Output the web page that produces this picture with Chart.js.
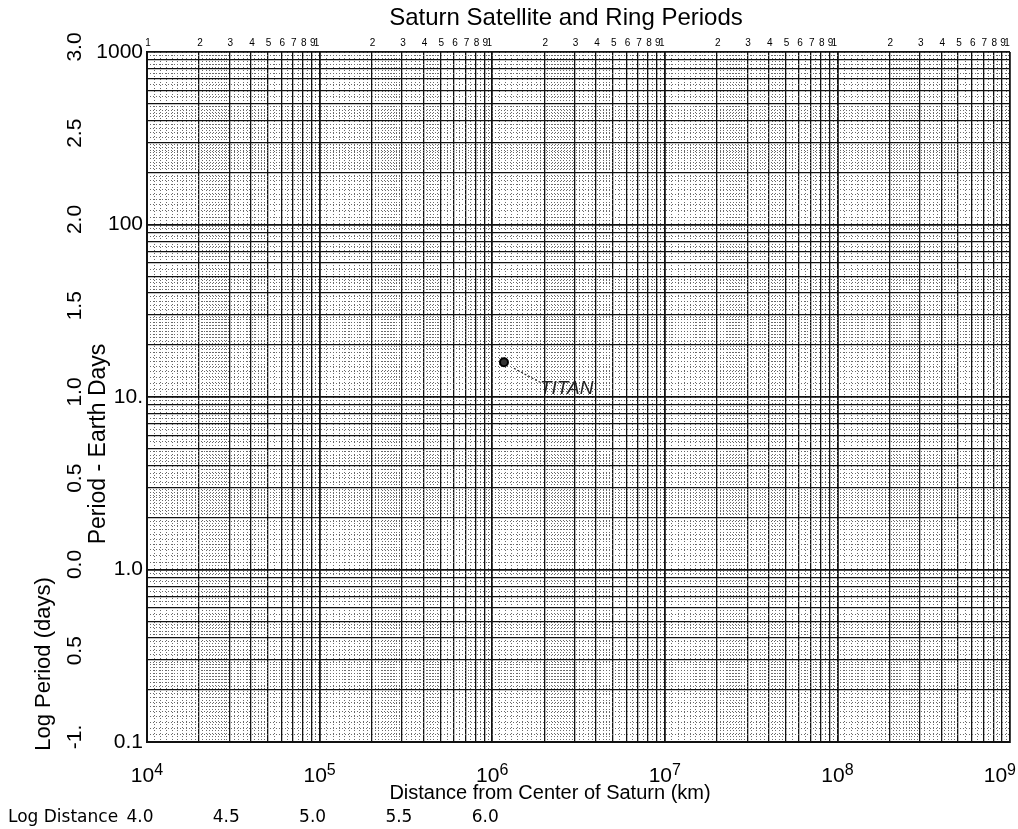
<!DOCTYPE html>
<html>
<head>
<meta charset="utf-8">
<script src="https://cdn.jsdelivr.net/npm/chart.js@4.4.1/dist/chart.umd.min.js"></script>
<style>
  body { margin: 0; background: #fff; }
  #wrap { width: 1018px; height: 829px; }
</style>
</head>
<body>
<div id="wrap"><canvas id="chart" width="1018" height="829"></canvas></div>
<script>
// satellite data
var satelliteNames = ['TITAN'];
var satelliteDistances = [1.17e6];   // km
var satellitePeriods = [15.9];       // earth days

// axis ranges and labels
var xMin = 1e4, xMax = 1e9;
var yMin = 0.1, yMax = 1000;
var xDecadeExponents = ['4', '5', '6', '7', '8', '9'];
var yTickValues = [1000, 100, 10, 1, 0.1];
var yTickLabels = ['1000', '100', '10.', '1.0', '0.1'];
var logPeriodValues = [3.0, 2.5, 2.0, 1.5, 1.0, 0.5, 0.0, -0.5, -1.0];
var logPeriodLabels = ['3.0', '2.5', '2.0', '1.5', '1.0', '0.5', '0.0', '0.5', '-1.'];
var logDistanceValues = [4.0, 4.5, 5.0, 5.5, 6.0];
var logDistanceLabels = ['4.0', '4.5', '5.0', '5.5', '6.0'];
var cycleDigits = ['1', '2', '3', '4', '5', '6', '7', '8', '9'];

var FONT = "'Liberation Sans', Arial, sans-serif";

function clean(v) {
    return Number(v.toPrecision(6));
}

// solid lines of the log paper: 1..9 in every cycle
function cycleTicks(min, max) {
    var out = [];
    for (var n = Math.round(Math.log10(min)); n <= Math.round(Math.log10(max)); n++) {
        for (var k = 1; k <= 9; k++) {
            var v = clean(k * Math.pow(10, n));
            if (v >= min && v <= max) out.push({ value: v });
        }
    }
    return out;
}

// dotted sub-divisions between the solid lines
var subSteps = [[1, 3, 0.1], [3, 5, 0.2], [5, 10, 0.5]];
function fineTicks(min, max) {
    var out = [];
    for (var n = Math.round(Math.log10(min)); n < Math.round(Math.log10(max)); n++) {
        subSteps.forEach(function (s) {
            for (var m = s[0] + s[2]; m < s[1] - 1e-9; m += s[2]) {
                if (Math.abs(m - Math.round(m)) < 1e-6) continue;
                out.push({ value: clean(m * Math.pow(10, n)) });
            }
        });
    }
    return out;
}

function isDecade(v) {
    var l = Math.log10(v);
    return Math.abs(l - Math.round(l)) < 1e-6;
}

var paperText = {
    id: 'paperText',
    afterDraw: function (chart) {
        var ctx = chart.ctx;
        var area = chart.chartArea;
        var xs = chart.scales.x;
        var ys = chart.scales.y;
        ctx.save();
        ctx.fillStyle = '#000';

        // title
        ctx.font = '24px ' + FONT;
        ctx.textAlign = 'center';
        ctx.textBaseline = 'middle';
        ctx.fillText('Saturn Satellite and Ring Periods', 566, 18);

        // little printed cycle digits above the paper
        ctx.font = '10px ' + FONT;
        var nCycles = Math.round(Math.log10(xMax / xMin));
        for (var c = 0; c < nCycles; c++) {
            cycleDigits.forEach(function (d, i) {
                var v = (i + 1) * xMin * Math.pow(10, c);
                ctx.fillText(d, xs.getPixelForValue(v) + (i === 0 && c > 0 ? -3 : 1), area.top - 9);
            });
        }
        ctx.fillText('1', xs.getPixelForValue(xMax) - 3, area.top - 9);

        // period tick labels
        ctx.font = '21px ' + FONT;
        ctx.textAlign = 'right';
        yTickValues.forEach(function (v, i) {
            ctx.fillText(yTickLabels[i], area.left - 4, ys.getPixelForValue(v));
        });

        // rotated log period labels
        logPeriodValues.forEach(function (v, i) {
            ctx.save();
            ctx.translate(75, ys.getPixelForValue(Math.pow(10, v)) - 5);
            ctx.rotate(-Math.PI / 2);
            ctx.textAlign = 'center';
            ctx.fillText(logPeriodLabels[i], 0, 0);
            ctx.restore();
        });

        ctx.font = '23px ' + FONT;
        ctx.save();
        ctx.translate(99, 444);
        ctx.rotate(-Math.PI / 2);
        ctx.textAlign = 'center';
        ctx.fillText('Period - Earth Days', 0, 0);
        ctx.restore();

        ctx.font = '22px ' + FONT;
        ctx.save();
        ctx.translate(44, 664);
        ctx.rotate(-Math.PI / 2);
        ctx.textAlign = 'center';
        ctx.fillText('Log Period (days)', 0, 0);
        ctx.restore();

        // distance decade labels with superscripts
        ctx.textBaseline = 'alphabetic';
        ctx.textAlign = 'left';
        xDecadeExponents.forEach(function (e) {
            var px = xs.getPixelForValue(Math.pow(10, Number(e)));
            ctx.font = '21px ' + FONT;
            var wBase = ctx.measureText('10').width;
            ctx.font = '16px ' + FONT;
            var wExp = ctx.measureText(e).width;
            var x0 = Math.min(px - (wBase + wExp) / 2, 1016 - wBase - wExp);
            ctx.font = '21px ' + FONT;
            ctx.fillText('10', x0, 782);
            ctx.font = '16px ' + FONT;
            ctx.fillText(e, x0 + wBase, 775);
        });

        ctx.font = '20px ' + FONT;
        ctx.textAlign = 'center';
        ctx.textBaseline = 'middle';
        ctx.fillText('Distance from Center of Saturn (km)', 550, 793);

        // log distance row
        ctx.font = "17px 'DejaVu Sans', Verdana, sans-serif";
        ctx.textAlign = 'left';
        ctx.fillText('Log Distance', 8, 818);
        ctx.textAlign = 'center';
        logDistanceValues.forEach(function (v, i) {
            ctx.fillText(logDistanceLabels[i], xs.getPixelForValue(Math.pow(10, v)) - 7, 818);
        });

        // hand written satellite labels
        satelliteNames.forEach(function (name, i) {
            var px = xs.getPixelForValue(satelliteDistances[i]);
            var py = ys.getPixelForValue(satellitePeriods[i]);
            ctx.strokeStyle = '#222';
            ctx.lineWidth = 1.2;
            ctx.setLineDash([2, 2]);
            ctx.beginPath();
            ctx.moveTo(px + 10, py + 6);
            ctx.lineTo(px + 36, py + 20);
            ctx.stroke();
            ctx.setLineDash([]);
            ctx.font = 'italic 19px ' + FONT;
            ctx.textAlign = 'left';
            ctx.fillStyle = '#222';
            ctx.fillText(name, px + 36, py + 26);
        });
        ctx.restore();
    }
};

var ctx = document.getElementById('chart').getContext('2d');
var chart = new Chart(ctx, {
    type: 'scatter',
    data: {
        datasets: [{
            label: 'Satellites',
            data: satelliteDistances.map(function (d, i) {
                return { x: d, y: satellitePeriods[i] };
            }),
            pointStyle: 'circle',
            pointRadius: 4,
            borderWidth: 2,
            borderColor: '#000',
            backgroundColor: '#333',
            xAxisID: 'x',
            yAxisID: 'y'
        }]
    },
    options: {
        responsive: false,
        animation: false,
        layout: { padding: { top: 52, right: 8, left: 0, bottom: 0 } },
        plugins: {
            legend: { display: false },
            tooltip: { enabled: false },
            title: { display: false }
        },
        scales: {
            x: {
                type: 'logarithmic',
                position: 'bottom',
                min: xMin,
                max: xMax,
                z: 0,
                afterBuildTicks: function (scale) { scale.ticks = cycleTicks(xMin, xMax); },
                afterFit: function (scale) { scale.height = 87; },
                ticks: { display: false },
                grid: {
                    drawTicks: false,
                    color: '#111',
                    lineWidth: function (c) { return c.tick && isDecade(c.tick.value) ? 1.8 : 1.3; }
                },
                border: { display: true, color: '#111', width: 2 }
            },
            x2: {
                type: 'logarithmic',
                position: 'bottom',
                min: xMin,
                max: xMax,
                z: -1,
                afterBuildTicks: function (scale) { scale.ticks = fineTicks(xMin, xMax); },
                afterFit: function (scale) { scale.height = 0; },
                ticks: { display: false },
                grid: { drawTicks: false, color: '#6a6a6a', lineWidth: 1 },
                border: { display: false, dash: [1, 2] }
            },
            y: {
                type: 'logarithmic',
                position: 'left',
                min: yMin,
                max: yMax,
                z: 0,
                afterBuildTicks: function (scale) { scale.ticks = cycleTicks(yMin, yMax); },
                afterFit: function (scale) { scale.width = 147; },
                ticks: { display: false },
                grid: {
                    drawTicks: false,
                    color: '#111',
                    lineWidth: function (c) { return c.tick && isDecade(c.tick.value) ? 1.8 : 1.3; }
                },
                border: { display: true, color: '#111', width: 2 }
            },
            y2: {
                type: 'logarithmic',
                position: 'left',
                min: yMin,
                max: yMax,
                z: -1,
                afterBuildTicks: function (scale) { scale.ticks = fineTicks(yMin, yMax); },
                afterFit: function (scale) { scale.width = 0; },
                ticks: { display: false },
                grid: { drawTicks: false, color: '#6a6a6a', lineWidth: 1 },
                border: { display: false, dash: [1, 2] }
            }
        }
    },
    plugins: [paperText]
});
</script>
</body>
</html>
